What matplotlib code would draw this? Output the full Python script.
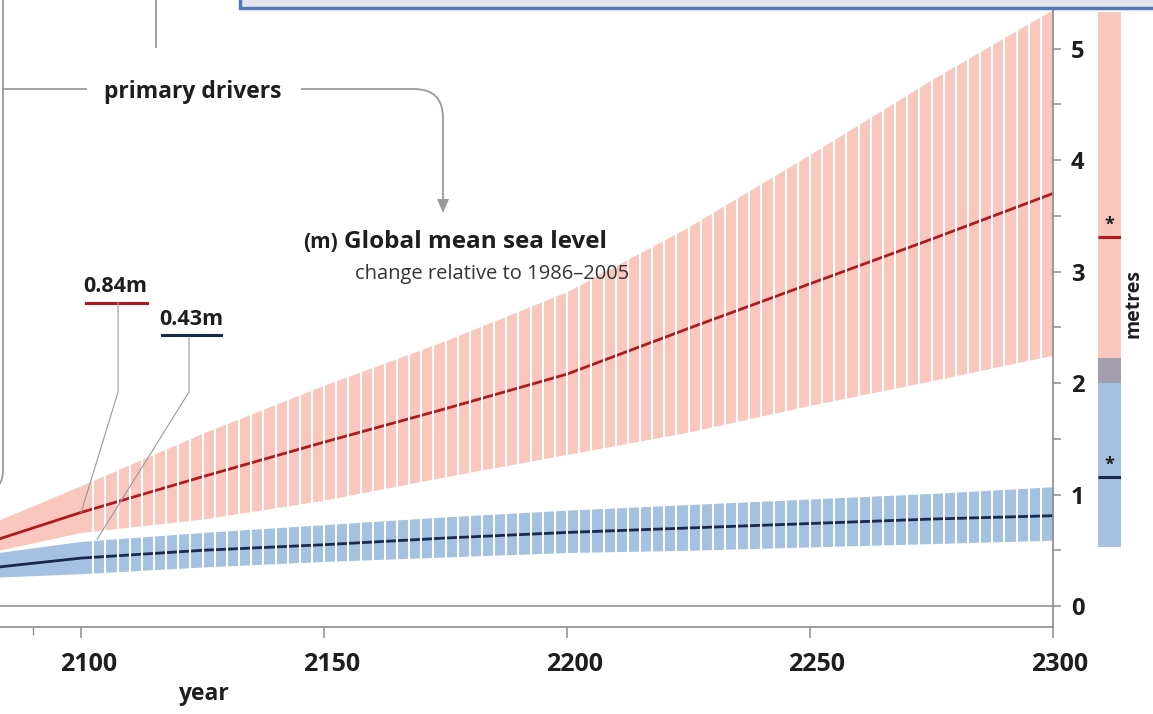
import numpy as np
import matplotlib.pyplot as plt
from matplotlib.patches import Rectangle, PathPatch, Polygon
from matplotlib.path import Path
from matplotlib.transforms import ScaledTranslation

plt.rcParams['font.family'] = ['Open Sans', 'DejaVu Sans']

# global mean sea level change (m) relative to 1986-2005
years = [2083, 2100, 2125, 2150, 2175, 2200, 2225, 2250, 2275, 2300]
high_med = [0.60, 0.84, 1.16, 1.47, 1.77, 2.08, 2.49, 2.89, 3.29, 3.70]
high_lo = [0.50, 0.66, 0.78, 0.95, 1.16, 1.36, 1.56, 1.80, 2.02, 2.25]
high_hi = [0.77, 1.08, 1.55, 1.98, 2.38, 2.82, 3.40, 4.05, 4.72, 5.35]
low_med = [0.35, 0.43, 0.50, 0.55, 0.61, 0.66, 0.70, 0.74, 0.78, 0.81]
low_lo = [0.26, 0.29, 0.35, 0.40, 0.44, 0.48, 0.50, 0.53, 0.56, 0.59]
low_hi = [0.48, 0.58, 0.66, 0.73, 0.80, 0.86, 0.91, 0.96, 1.01, 1.07]

# 2300 ranges shown in the side bar
bar_high = (2.00, 5.33, 3.31)   # low, high, median
bar_low = (0.53, 2.22, 1.16)

label_high = 0.84
label_low = 0.43

RED_FILL = '#F9C7BD'
BLUE_FILL = '#A4C1E2'
RED_LINE = '#B0191E'
BLUE_LINE = '#17294F'
GRAY = '#9A9A9A'
TXT = '#1E1E1E'

W, H = 1153, 714
fig = plt.figure(figsize=(W / 100, H / 100), dpi=100)

ax = fig.add_axes([0, 87 / H, 1053 / W, 627 / H])
ax.set_xlim(2083.3, 2300)
ax.set_ylim(-0.188, 5.435)

ax.fill_between(years, high_lo, high_hi, color=RED_FILL, lw=0, zorder=1)
ax.fill_between(years, low_lo, low_hi, color=BLUE_FILL, lw=0, zorder=1.5)
ax.plot(years, high_med, color=RED_LINE, lw=2.0, zorder=2.5)
ax.plot(years, low_med, color=BLUE_LINE, lw=2.0, zorder=2.5)

# white gaps split the bands into bars after 2100
ax.vlines(np.arange(2102.5, 2300, 2.5), 0.15, 5.45, color='white', lw=1.5, zorder=3)

ax.axhline(0, color='#A0A0A0', lw=1.3, zorder=1)

# labels with leader lines for the 2100 values
ax.text(2107.0, 2.87, f'{label_high:.2f}m', ha='center', va='center',
        fontsize=15.5, fontweight='bold', color=TXT, zorder=5)
ax.plot([2101, 2113.6], [2.72, 2.72], color=RED_LINE, lw=2.2, zorder=5)
ax.plot([2107.6, 2107.6, 2100], [2.72, 1.92, label_high], color=GRAY, lw=0.8, zorder=5)

ax.text(2122.6, 2.57, f'{label_low:.2f}m', ha='center', va='center',
        fontsize=15.5, fontweight='bold', color=TXT, zorder=5)
ax.plot([2116.7, 2128.8], [2.43, 2.43], color=BLUE_LINE, lw=2.2, zorder=5)
ax.plot([2122.2, 2122.2, 2103.3], [2.41, 1.92, 0.60], color=GRAY, lw=0.8, zorder=5)

for s in ['left', 'top']:
    ax.spines[s].set_visible(False)
for s in ['right', 'bottom']:
    ax.spines[s].set_color('#8C8C8C')
    ax.spines[s].set_linewidth(1.2)

ax.set_xticks([2100, 2150, 2200, 2250, 2300])
ax.set_xticks([2090], minor=True)
ax.tick_params(axis='x', which='major', direction='out', length=8, width=1.1,
               color='#8C8C8C', pad=10, labelsize=18, labelcolor=TXT)
ax.tick_params(axis='x', which='minor', direction='out', length=6, width=1.0,
               color='#8C8C8C')
for lab in ax.get_xticklabels():
    lab.set_fontweight('bold')
    lab.set_transform(lab.get_transform() + ScaledTranslation(7 / 100, 0, fig.dpi_scale_trans))

ax.yaxis.tick_right()
ax.set_yticks([0, 1, 2, 3, 4, 5])
ax.set_yticks([0.5, 1.5, 2.5, 3.5, 4.5], minor=True)
ax.tick_params(axis='y', which='both', direction='out', length=6, width=1.1,
               color='#8C8C8C', pad=7, labelsize=17, labelcolor=TXT)
for lab in ax.get_yticklabels():
    lab.set_fontweight('bold')
ax.patch.set_alpha(0)

# side bar with 2300 ranges
axb = fig.add_axes([1098 / W, 87 / H, 23 / W, 627 / H])
axb.set_xlim(0, 1)
axb.set_ylim(-0.188, 5.435)
axb.axis('off')
axb.bar(0.5, bar_high[1] - bar_high[0], bottom=bar_high[0], width=1, color=RED_FILL, lw=0)
axb.bar(0.5, bar_low[1] - bar_low[0], bottom=bar_low[0], width=1, color=BLUE_FILL, lw=0)
axb.bar(0.5, bar_low[1] - bar_high[0], bottom=bar_high[0], width=1, color='#A49FAE', lw=0)
axb.hlines(bar_high[2], 0, 1, color=RED_LINE, lw=2.2)
axb.hlines(bar_low[2], 0, 1, color=BLUE_LINE, lw=2.2)
axb.text(0.5, bar_high[2] + 0.03, '*', ha='center', va='bottom', fontsize=13,
         fontweight='bold', color=TXT)
axb.text(0.5, bar_low[2] + 0.03, '*', ha='center', va='bottom', fontsize=13,
         fontweight='bold', color=TXT)

# overlay in pixel units for the surrounding annotation
ov = fig.add_axes([0, 0, 1, 1], zorder=10)
ov.set_xlim(0, W)
ov.set_ylim(H, 0)
ov.axis('off')
ov.patch.set_alpha(0)

ov.add_patch(Rectangle((240, -12), 930, 20, facecolor='#E3E6EC',
                       edgecolor='#5479B4', lw=2.5))
ov.plot([3, 3], [0, 470], color=GRAY, lw=1.3)
ov.add_patch(PathPatch(Path([(3, 470), (3, 492), (-19, 492)],
                            [Path.MOVETO, Path.CURVE3, Path.CURVE3]),
                       facecolor='none', edgecolor=GRAY, lw=1.3))
ov.plot([156, 156], [0, 47], color=GRAY, lw=1.3)
ov.plot([3, 86], [89, 89], color=GRAY, lw=1.3)
ov.add_patch(PathPatch(Path([(301, 89), (414, 89), (443, 89), (443, 118), (443, 200)],
                            [Path.MOVETO, Path.LINETO, Path.CURVE3, Path.CURVE3, Path.LINETO]),
                       facecolor='none', edgecolor=GRAY, lw=1.3))
ov.add_patch(Polygon([(437, 199), (449, 199), (443, 213)], closed=True,
                     facecolor=GRAY, edgecolor='none'))

ov.text(193, 92, 'primary drivers', ha='center', va='center', fontsize=16.5,
        fontweight='bold', color=TXT)
ov.text(303, 242, '(m)', ha='left', va='center', fontsize=15,
        fontweight='bold', color=TXT)
ov.text(344, 242, 'Global mean sea level', ha='left', va='center', fontsize=17.5,
        fontweight='bold', color=TXT)
ov.text(355, 274, 'change relative to 1986\u20132005', ha='left', va='center',
        fontsize=14.5, color='#333333')
ov.text(203, 694, 'year', ha='center', va='center', fontsize=16.5,
        fontweight='bold', color=TXT)
ov.text(1133, 304, 'metres', ha='center', va='center', rotation=90,
        fontsize=14, fontweight='bold', color=TXT)

fig.savefig('out.png', dpi=100, facecolor='white')
